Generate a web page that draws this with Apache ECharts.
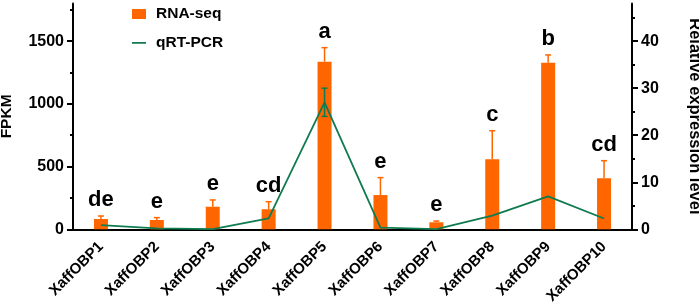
<!DOCTYPE html>
<html>
<head>
<meta charset="utf-8">
<script src="https://cdn.jsdelivr.net/npm/echarts@6/dist/echarts.min.js"></script>
<style>html,body{margin:0;padding:0;background:#fff}#c{width:699px;height:305px}</style>
</head>
<body>
<div id="c"></div>
<script>
var categories = ['XaffOBP1','XaffOBP2','XaffOBP3','XaffOBP4','XaffOBP5','XaffOBP6','XaffOBP7','XaffOBP8','XaffOBP9','XaffOBP10'];
var fpkm = [82, 74, 180, 160, 1336, 273, 56, 558, 1328, 407];
var fpkmErr = [24, 19, 54, 60, 112, 139, 10, 228, 62, 140];
var letters = ['de','e','e','cd','a','e','e','c','b','cd'];
var qpcr = [0.9, 0.2, 0.05, 2.3, 27, 0.35, 0.05, 2.9, 7.0, 2.3];
var qpcrErr = [0, 0, 0, 0, 3, 0, 0, 0, 0, 0];
var leftMajor = [0, 500, 1000, 1500];
var leftMinor = [250, 750, 1250, 1750];
var rightMajor = [0, 10, 20, 30, 40];
var rightMinor = [5, 15, 25, 35, 45];

var FONT = 'Liberation Sans, Arial, sans-serif';
var ORANGE = '#ff6600';
var GREEN = '#0f7b4f';

function errItem(values, errs, color, labels, axisIdx) {
  return function (params, api) {
    var i = api.value(0);
    var v = values[i], e = errs[i];
    var base = api.coord([i, v]);
    var top = api.coord([i, v + e]);
    var children = [];
    if (e > 0) {
      children.push({type:'line', shape:{x1:base[0], y1:base[1], x2:top[0], y2:top[1]}, style:{stroke:color, lineWidth:1.5}});
      children.push({type:'line', shape:{x1:top[0]-3, y1:top[1], x2:top[0]+3, y2:top[1]}, style:{stroke:color, lineWidth:1.5}});
      if (axisIdx === 1) {
        var bot = api.coord([i, v - e]);
        children.push({type:'line', shape:{x1:base[0], y1:base[1], x2:bot[0], y2:bot[1]}, style:{stroke:color, lineWidth:1.5}});
        children.push({type:'line', shape:{x1:bot[0]-3, y1:bot[1], x2:bot[0]+3, y2:bot[1]}, style:{stroke:color, lineWidth:1.5}});
      }
    }
    if (labels) {
      children.push({type:'text', style:{text:labels[i], x:top[0], y:top[1]-5, align:'center', verticalAlign:'bottom',
        fontFamily: FONT, fontWeight: 'bold', fontSize: 22, fill:'#000'}});
    }
    return {type:'group', children:children};
  };
}

var idx = categories.map(function (c, i) { return i; });
var plain = function (v) { return String(v); };
var lineIcon = 'path://M0,0 L0.01,0 L0.01,0.01 L0,0.01 Z M0,4 L14,4 L14,5.8 L0,5.8 Z M13.99,9.99 L14,9.99 L14,10 L13.99,10 Z';

var chart = echarts.init(document.getElementById('c'));
chart.setOption({
  animation: false,
  backgroundColor: '#fff',
  grid: {left: 73, right: 67, top: 3.5, bottom: 75.7, containLabel: false, outerBoundsMode: 'none'},
  legend: {
    orient: 'vertical', left: 132, top: 6, padding: 0, itemWidth: 14, itemHeight: 10, itemGap: 13,
    textStyle: {fontFamily: FONT, fontWeight: 'bold', fontSize: 15.5, color: '#000', padding: [0,0,0,5]},
    data: [{name:'RNA-seq', icon:'rect', itemStyle: {color: ORANGE}}, {name:'qRT-PCR', icon: lineIcon, itemStyle: {color: GREEN}}]
  },
  xAxis: {
    type: 'category', data: categories,
    axisLine: {lineStyle: {color: '#000', width: 2}},
    axisTick: {alignWithLabel: true, length: 5, lineStyle: {color: '#000', width: 2}},
    axisLabel: {rotate: 45, margin: 15, fontFamily: FONT, fontWeight: 'bold', fontSize: 15, color: '#000', interval: 0}
  },
  yAxis: [
    {
      type: 'value', min: 0, max: 1800, position: 'left',
      name: 'FPKM', nameLocation: 'middle', nameGap: 58, nameRotate: 90,
      nameTextStyle: {fontFamily: FONT, fontWeight: 'bold', fontSize: 15.5, color: '#000'},
      axisLine: {show: true, lineStyle: {color: '#000', width: 2}},
      axisTick: {show: true, length: 6, customValues: leftMajor, lineStyle: {color: '#000', width: 2}},
      axisLabel: {customValues: leftMajor, formatter: plain, margin: 9, fontFamily: FONT, fontWeight: 'bold', fontSize: 16, color: '#000'},
      splitLine: {show: false}
    },
    {
      type: 'value', min: 0, max: 48, position: 'right',
      name: 'Relative expression level', nameLocation: 'middle', nameGap: 54.5, nameRotate: -90,
      nameTextStyle: {fontFamily: FONT, fontWeight: 'bold', fontSize: 16.5, color: '#000'},
      axisLine: {show: true, lineStyle: {color: '#000', width: 2}},
      axisTick: {show: true, length: 6, customValues: rightMajor, lineStyle: {color: '#000', width: 2}},
      axisLabel: {customValues: rightMajor, formatter: plain, margin: 9, fontFamily: FONT, fontWeight: 'bold', fontSize: 16, color: '#000'},
      splitLine: {show: false}
    },
    {
      type: 'value', min: 0, max: 1800, position: 'left',
      axisLine: {show: false},
      axisTick: {show: true, length: 3, customValues: leftMinor, lineStyle: {color: '#000', width: 2}},
      axisLabel: {show: false}, splitLine: {show: false}
    },
    {
      type: 'value', min: 0, max: 48, position: 'right',
      axisLine: {show: false},
      axisTick: {show: true, length: 3, customValues: rightMinor, lineStyle: {color: '#000', width: 2}},
      axisLabel: {show: false}, splitLine: {show: false}
    }
  ],
  series: [
    {name: 'RNA-seq', type: 'bar', data: fpkm, barWidth: 14, itemStyle: {color: ORANGE}, yAxisIndex: 0, z: 2},
    {type: 'custom', yAxisIndex: 0, data: idx, renderItem: errItem(fpkm, fpkmErr, ORANGE, letters, 0), z: 3, silent: true},
    {name: 'qRT-PCR', type: 'line', yAxisIndex: 1, data: qpcr, symbol: 'none', lineStyle: {color: GREEN, width: 1.8}, itemStyle: {color: GREEN}, z: 4},
    {type: 'custom', yAxisIndex: 1, data: idx, renderItem: errItem(qpcr, qpcrErr, GREEN, null, 1), z: 5, silent: true}
  ]
});
</script>
</body>
</html>
